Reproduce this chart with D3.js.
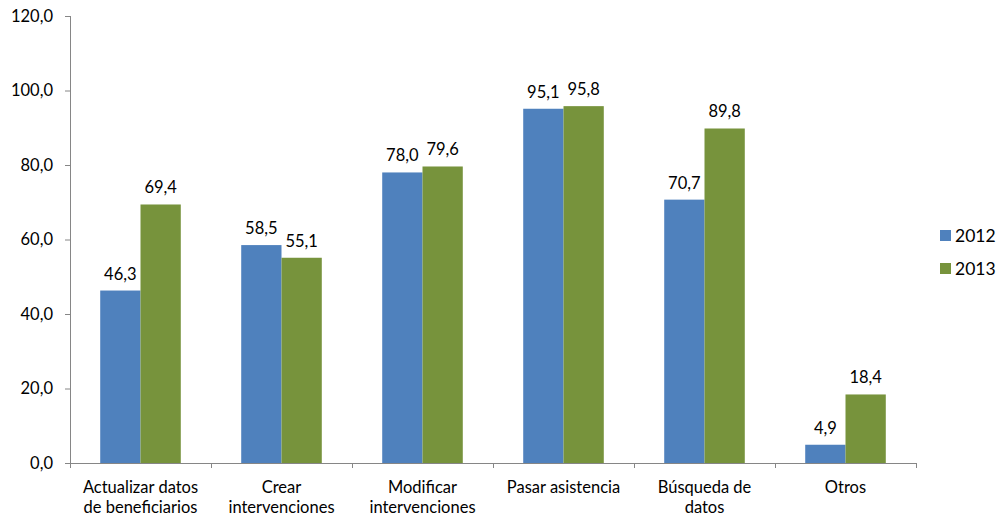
<!DOCTYPE html>
<html>
<head>
<meta charset="utf-8">
<script src="https://cdn.jsdelivr.net/npm/d3@7"></script>
<style>
  body { margin: 0; background: #fff; }
  svg { display: block; font-family: Lato, "Open Sans", sans-serif; }
</style>
</head>
<body>
<svg id="chart" width="996" height="516"></svg>
<script>
// Categories (two-line labels) and yearly values
const categories = [
  ["Actualizar datos", "de beneficiarios"],
  ["Crear", "intervenciones"],
  ["Modificar", "intervenciones"],
  ["Pasar asistencia"],
  ["Búsqueda de", "datos"],
  ["Otros"]
];
const seriesNames = ["2012", "2013"];
const values2012 = [46.3, 58.5, 78.0, 95.1, 70.7, 4.9];
const values2013 = [69.4, 55.1, 79.6, 95.8, 89.8, 18.4];
const yTicks = [0, 20, 40, 60, 80, 100, 120];
const colors = ["#4F81BD", "#77933C"];

const svg = d3.select("#chart");
const plotLeft = 70, plotRight = 916, plotTop = 16, plotBottom = 463;

const x = d3.scaleBand().domain(d3.range(categories.length)).range([plotLeft, plotRight]).paddingInner(0).paddingOuter(0);
const xi = d3.scaleBand().domain(seriesNames).range([0, x.bandwidth()]).paddingInner(0).paddingOuter(0.75);
const y = d3.scaleLinear().domain([0, 120]).range([plotBottom, plotTop]);

const fmt = v => v.toFixed(1).replace(".", ",");

// Y axis
const yAxis = svg.append("g").attr("transform", `translate(${plotLeft},0)`)
  .call(d3.axisLeft(y).tickValues(yTicks).tickFormat(fmt).tickSize(5).tickPadding(12));
yAxis.select(".domain").attr("stroke", "#868686").attr("d", `M0.5,${plotTop}V${plotBottom}`);
yAxis.selectAll(".tick line").attr("stroke", "#868686");
yAxis.selectAll(".tick text").attr("font-size", 16.5).attr("fill", "#000")
  .attr("font-family", "Lato, sans-serif");

// Bars and value labels
const series = [values2012, values2013];
series.forEach((vals, si) => {
  svg.append("g").selectAll("rect").data(vals).join("rect")
    .attr("x", (d, i) => x(i) + xi(seriesNames[si]))
    .attr("width", xi.bandwidth())
    .attr("y", d => y(d))
    .attr("height", d => y(0) - y(d))
    .attr("fill", colors[si]);
  svg.append("g").selectAll("text").data(vals).join("text")
    .attr("x", (d, i) => x(i) + xi(seriesNames[si]) + xi.bandwidth() / 2)
    .attr("y", d => y(d) - 11)
    .attr("text-anchor", "middle")
    .attr("font-size", 16.5)
    .attr("fill", "#000")
    .text(fmt);
});

// X axis with boundary ticks
const xAxis = svg.append("g");
xAxis.append("line").attr("x1", plotLeft).attr("x2", plotRight).attr("y1", plotBottom + 0.5).attr("y2", plotBottom + 0.5)
  .attr("stroke", "#868686");
xAxis.selectAll("line.tk").data(d3.range(categories.length + 1)).join("line")
  .attr("class", "tk")
  .attr("x1", i => Math.round(i < categories.length ? x(i) : plotRight) + 0.5)
  .attr("x2", i => Math.round(i < categories.length ? x(i) : plotRight) + 0.5)
  .attr("y1", plotBottom).attr("y2", plotBottom + 5)
  .attr("stroke", "#868686");

const catLabels = svg.append("g").selectAll("text").data(categories).join("text")
  .attr("text-anchor", "middle")
  .attr("font-size", 16.5)
  .attr("fill", "#000");
catLabels.each(function(lines, i) {
  const t = d3.select(this);
  lines.forEach((ln, k) => {
    t.append("tspan").attr("x", x(i) + x.bandwidth() / 2).attr("y", 493 + k * 19.5).text(ln);
  });
});

// Legend
const legend = svg.append("g").selectAll("g").data(seriesNames).join("g")
  .attr("transform", (d, i) => `translate(940,${230 + i * 33})`);
legend.append("rect").attr("width", 11).attr("height", 11).attr("fill", (d, i) => colors[i]);
legend.append("text").attr("x", 15).attr("y", 11.5).attr("font-size", 17.5).attr("fill", "#000").text(d => d);
</script>
</body>
</html>
